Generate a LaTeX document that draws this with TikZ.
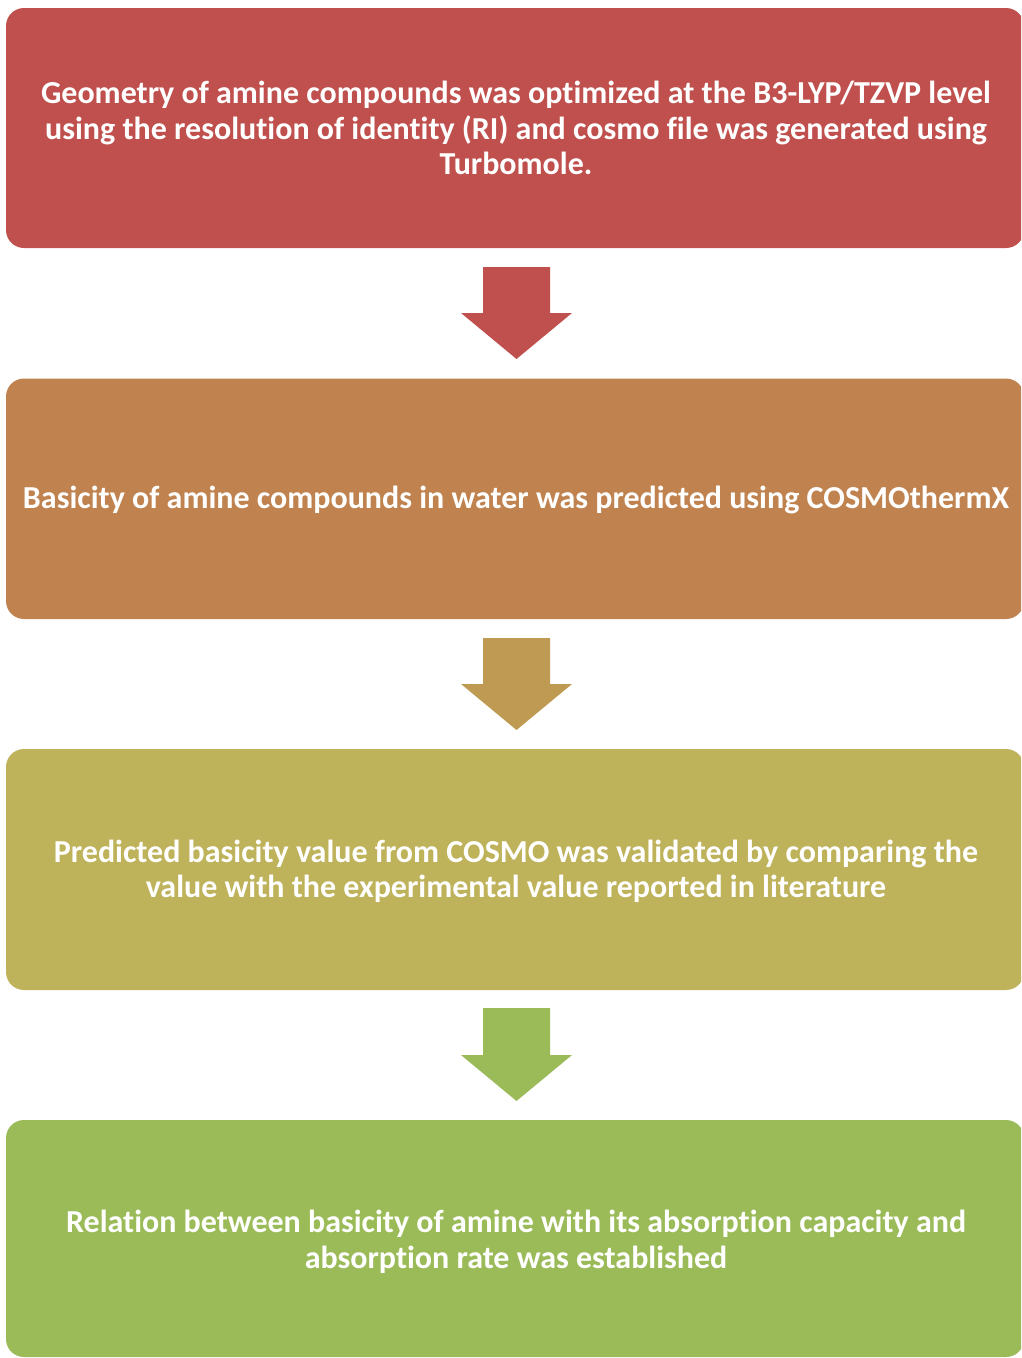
\documentclass[tikz,border=0pt]{standalone}
\usepackage{fontspec}
\setmainfont[Ligatures={NoCommon}]{Carlito}
\definecolor{cA}{HTML}{C0504D}
\definecolor{cB}{HTML}{C0834F}
\definecolor{cC}{HTML}{BEB25A}
\definecolor{aB}{HTML}{BF9A53}
\definecolor{cD}{HTML}{9BBB59}
\tikzset{
  stepbox/.style={fill=#1, draw=none, rounded corners=18pt},
  boxtext/.style={text=white, font=\fontsize{32}{35.5}\selectfont\bfseries, align=center, inner sep=0pt},
  downarrow/.style={fill=#1, draw=none}
}
\begin{document}
\begin{tikzpicture}[x=1pt,y=-1pt]
\useasboundingbox (0,0) rectangle (1021,1358);
\begin{scope}
\clip (0,0) rectangle (1021,1358);
\fill[stepbox=cA] (6,8) rectangle (1024,248);
\fill[stepbox=cB] (6,378.5) rectangle (1024,619);
\fill[stepbox=cC] (6,749) rectangle (1024,990);
\fill[stepbox=cD] (6,1120) rectangle (1024,1357);
\end{scope}
\node[boxtext] (t1) at (516,128) {Geometry of amine compounds was optimized at the B3-LYP/TZVP level\\using the resolution of identity (RI) and cosmo file was generated using\\Turbomole.};
\node[boxtext] (t2) at (516,500) {Basicity of amine compounds in water was predicted using COSMOthermX};
\node[boxtext] (t3) at (516,871.5) {Predicted basicity value from COSMO was validated by comparing the\\value with the experimental value reported in literature};
\node[boxtext] (t4) at (516,1242) {Relation between basicity of amine with its absorption capacity and\\absorption rate was established};
\fill[downarrow=cA] (483,267) -- (550,267) -- (550,313) -- (572,313) -- (516.5,359) -- (461,313) -- (483,313) -- cycle;
\fill[downarrow=aB] (483,638) -- (550,638) -- (550,684) -- (572,684) -- (516.5,730) -- (461,684) -- (483,684) -- cycle;
\fill[downarrow=cD] (483,1008) -- (550,1008) -- (550,1055) -- (572,1055) -- (516.5,1101) -- (461,1055) -- (483,1055) -- cycle;
\end{tikzpicture}
\end{document}
